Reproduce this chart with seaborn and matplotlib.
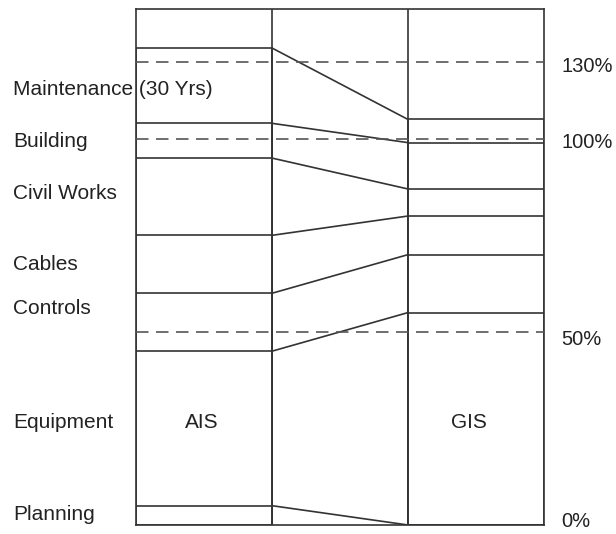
import pandas as pd
import numpy as np
import matplotlib
matplotlib.use("Agg")
import matplotlib.pyplot as plt
import matplotlib.transforms as mtransforms
import seaborn as sns

# segment heights, bottom to top (chart units, 100 = 100% line)
categories = ['Planning', 'Equipment', 'Controls', 'Cables', 'Civil Works', 'Building', 'Maintenance (30 Yrs)']
ais_values = [5, 40, 15, 15, 20, 9, 19.5]
gis_values = [0, 55, 15, 10, 7, 12, 6]

# reference lines (the top one is labelled 130% in the source picture)
ref_values = [0, 50, 100, 120]
ref_labels = ['0%', '50%', '100%', '130%']

# layout: where the left-hand names sit, and small nudges for the % labels
label_pos = [2.6, 26.6, 56, 67.4, 85.9, 99.3, 112.7]
ref_nudge = [0.9, -2.0, -1.0, -1.4]

LINE = '#333333'
TEXT = '#222222'

sns.set_theme(style='white')
plt.rcParams['font.family'] = ['Liberation Sans', 'DejaVu Sans']

ais_cum = np.cumsum(ais_values)
gis_cum = np.cumsum(gis_values)

df = pd.DataFrame({
    'category': categories * 2,
    'system': ['AIS'] * len(categories) + ['GIS'] * len(categories),
    'cum': list(ais_cum) + list(gis_cum),
})

fig = plt.figure(figsize=(6.16, 5.34), dpi=100)
ax = fig.add_axes([136 / 616, 9 / 534, 408 / 616, 516 / 534])

order = ['AIS', 'gap', 'GIS']
# stacked bars: draw the tallest cumulative first so lower ones sit on top
for cat in reversed(categories):
    sub = df[df['category'] == cat]
    sns.barplot(data=sub, x='system', y='cum', order=order, color='white',
                saturation=1, width=1, edgecolor=LINE, linewidth=1.2, ax=ax,
                errorbar=None)

# connector lines between the AIS and GIS boundaries
conn = pd.DataFrame({
    'x': [0.5] * len(categories) + [1.5] * len(categories),
    'y': list(ais_cum) + list(gis_cum),
    'cat': categories * 2,
})
sns.lineplot(data=conn, x='x', y='y', units='cat', estimator=None,
             color=LINE, linewidth=1.2, ax=ax, zorder=3)

for xv in [0.5, 1.5]:
    ax.axvline(xv, color=LINE, linewidth=1.2, zorder=3)

for v in ref_values[1:]:
    ax.axhline(v, color='#555555', linewidth=1.2, dashes=(7.5, 4.5), zorder=4)

ax.set_xlim(-0.5, 2.5)
ax.set_ylim(0, 133.6)
ax.set_xticks([])
ax.set_yticks([])
ax.set_xlabel('')
ax.set_ylabel('')
for sp in ax.spines.values():
    sp.set_visible(True)
    sp.set_color(LINE)
    sp.set_linewidth(1.2)

# category labels on the left
trans = mtransforms.blended_transform_factory(fig.transFigure, ax.transData)
for cat, y in zip(categories, label_pos):
    fig.text(13 / 616, y, cat, transform=trans, ha='left', va='center',
             fontsize=15, color=TEXT)

for v, lab, dy in zip(ref_values, ref_labels, ref_nudge):
    ax.text(1.042, v + dy, lab, transform=ax.get_yaxis_transform(),
            ha='left', va='center', fontsize=14.5, color=TEXT)

ax.text(-0.02, label_pos[1], 'AIS', ha='center', va='center', fontsize=15, color=TEXT)
ax.text(1.95, label_pos[1], 'GIS', ha='center', va='center', fontsize=15, color=TEXT)

fig.savefig('out.png', dpi=100)
